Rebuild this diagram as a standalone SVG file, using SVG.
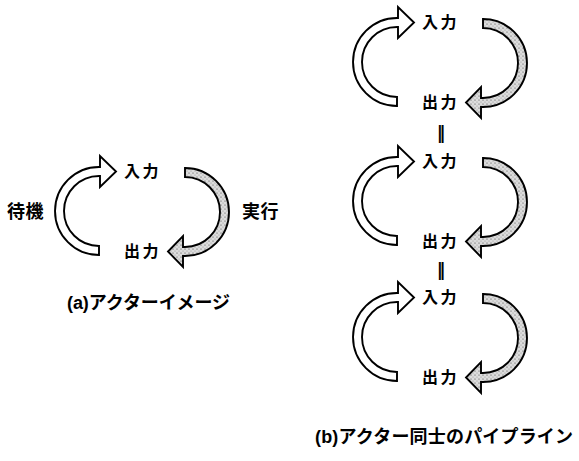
<svg xmlns="http://www.w3.org/2000/svg" width="579" height="461" viewBox="0 0 579 461">
<style>
.t{font-family:"Liberation Sans","Noto Sans CJK JP",sans-serif;font-weight:bold;fill:#000;dominant-baseline:central}
.lbl{font-size:16px;letter-spacing:2.5px}
.side{font-size:18px;letter-spacing:0.5px}
.cap{font-size:18px}
.eq{font-family:"DejaVu Sans",sans-serif;font-weight:bold;font-size:17px;fill:#000;dominant-baseline:central;text-anchor:middle}
.w{fill:#fff;stroke:#000;stroke-width:1.9;stroke-linejoin:miter}
.g{fill:url(#stip);stroke:#000;stroke-width:1.9;stroke-linejoin:miter}
</style>
<defs>
<pattern id="stip" width="4" height="4" patternUnits="userSpaceOnUse">
<rect width="4" height="4" fill="#dcdcdc"/>
<circle cx="1" cy="1" r="0.6" fill="#444"/>
<circle cx="3" cy="3" r="0.5" fill="#888"/>
</pattern>
<g id="actor">
<path class="w" d="M99,255 A44,44 0 0 1 99,167 L100,167 L100,156 L116,171.5 L100,187 L100,176 L99,176 A35,35 0 0 0 99,246 Z"/>
<path class="g" d="M185,168 A44,44 0 0 1 185,256 L183,256 L183,267 L168,251.5 L183,236 L183,247 L185,247 A35,35 0 0 0 185,177 Z"/>
<text class="t lbl" x="124" y="171">入力</text>
<text class="t lbl" x="124" y="251">出力</text>
</g>
</defs>
<g id="actor-a">
<use href="#actor"/>
<text class="t side" x="7" y="212">待機</text>
<text class="t side" x="242" y="212">実行</text>
<text class="t cap" x="67" y="303" textLength="163" lengthAdjust="spacing">(a)アクターイメージ</text>
</g>
<g id="actor-b1"><use href="#actor" transform="translate(298,-149)"/></g>
<g id="actor-b2"><use href="#actor" transform="translate(298,-10)"/></g>
<g id="actor-b3"><use href="#actor" transform="translate(298,126)"/></g>
<g id="connectors">
<text class="eq" x="441" y="133">‖</text>
<text class="eq" x="441" y="270">‖</text>
</g>
<g id="caption-b">
<text class="t cap" x="315" y="437" textLength="258" lengthAdjust="spacing">(b)アクター同士のパイプライン</text>
</g>
</svg>
